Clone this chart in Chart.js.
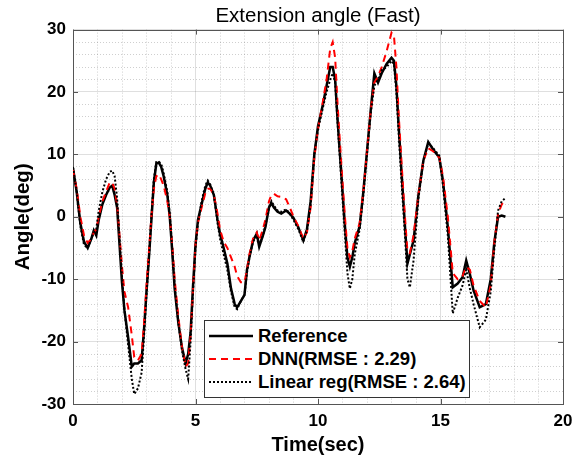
<!DOCTYPE html>
<html>
<head>
<meta charset="utf-8">
<script src="https://cdn.jsdelivr.net/npm/chart.js@4"></script>
<style>
    body { margin: 0; background: #fff; }
    #wrap { position: relative; width: 581px; height: 466px; }
    #legend {
        position: absolute; left: 204px; top: 320px; width: 264px; height: 73px;
        border: 1px solid #333; background: #fff; padding-top: 3px; box-sizing: content-box;
        font: bold 18.5px 'Liberation Sans', Arial, sans-serif; color: #000;
    }
    #legend .row { display: flex; align-items: center; height: 23px; white-space: nowrap; }
    #legend svg { margin-left: 3px; margin-right: 5px; }
</style>
</head>
<body>
<div id="wrap">
    <canvas id="myChart" width="581" height="466"></canvas>
    <div id="legend"></div>
</div>
<script>
// time (sec)
const times = [
    0.0, 0.15, 0.3, 0.45, 0.6, 0.75, 0.85, 0.95, 1.05, 1.2, 1.35, 1.5, 1.6, 1.7, 1.8, 1.9,
    2.0, 2.1, 2.25, 2.4, 2.5, 2.65, 2.8, 2.9, 3.0, 3.1, 3.2, 3.3, 3.4, 3.5, 3.6, 3.7, 3.85, 3.95,
    4.05, 4.15, 4.3, 4.45, 4.6, 4.7, 4.8, 4.9, 5.0, 5.1, 5.25, 5.4, 5.5, 5.6, 5.75, 5.9,
    6.0, 6.15, 6.3, 6.45, 6.6, 6.7, 6.85, 7.0, 7.1, 7.2, 7.35, 7.5, 7.6, 7.75, 7.85,
    8.0, 8.1, 8.2, 8.35, 8.5, 8.7, 8.85, 9.0, 9.2, 9.4, 9.55, 9.7, 9.85,
    10.0, 10.2, 10.35, 10.5, 10.6, 10.7, 10.8, 10.95, 11.1, 11.2, 11.3, 11.4, 11.5, 11.7, 11.85,
    12.0, 12.15, 12.3, 12.45, 12.6, 12.8, 13.0, 13.1, 13.2, 13.3, 13.42, 13.55, 13.65, 13.75, 13.9,
    14.1, 14.3, 14.5, 14.7, 14.95, 15.1, 15.3, 15.5, 15.7, 15.9,
    16.05, 16.2, 16.35, 16.6, 16.85, 17.05, 17.2, 17.35, 17.5, 17.65
];

const reference = [
    7.8, 4, -1, -4, -5, -3.5, -2.2, -3, -0.5, 2, 3.5, 4.7, 5, 3.5, 1.5, -4.5,
    -10.5, -15, -19.3, -24, -23.5, -23.5, -23, -18, -12, -6.5, -0.5, 5.5, 8.5, 8.7, 8, 6.5, 3.5, 0,
    -5.5, -11.5, -17, -21, -23.5, -22, -18.5, -11, -4.5, -0.5, 2, 4.5, 5.5, 5, 3.5, -0.5,
    -2.7, -5, -7.5, -11.5, -14, -14.5, -13.5, -12.5, -8.5, -6.5, -3.8, -2.7, -4.8, -3, -1.7,
    1.5, 2.2, 1.5, 0.8, 0.5, 1, 0.5, -0.2, -1.7, -3.8, -2, 2.5, 10,
    14.5, 18, 21, 24, 24, 22, 15.5, 7, -1.5, -6.5, -8, -6.5, -4.2, -1.5, 4,
    10.5, 17, 23, 21.5, 23, 24.5, 25.5, 25, 21, 14, 6.5, -1.5, -7.5, -6, -3.8,
    3.5, 9, 12, 10.8, 9.5, 5.8, -1.7, -11.3, -10.7, -9.7,
    -7, -9.2, -11.8, -14.5, -14, -10, -4, 0, 0.2, 0
];

const dnn = [
    7.5, 4.5, 0, -3, -4.2, -3.5, -2.5, -2, 0, 2.5, 4, 5.5, 5.5, 4.5, 2, -3,
    -8, -12, -14.5, -19, -22.5, -23, -22, -17, -11, -5.5, 0, 4.5, 6.5, 6.8, 6, 5, 2.5, 0,
    -4.5, -10, -16, -21, -24, -23.5, -19, -11.5, -4.5, -1, 1.5, 3.8, 4.5, 4.5, 3.5, 0.5,
    -2, -4, -5, -6.5, -8, -9.5, -10.5, -10.5, -8.5, -6, -3.5, -2.5, -3.8, -2, -0.5,
    2.5, 3.5, 3.7, 3.3, 3.2, 2.8, 1.5, 0, -1.5, -3.5, -2.5, 1.5, 9.5,
    14, 18.5, 22, 27, 28, 25.5, 18, 8.5, 0, -5, -6.5, -5.5, -3.5, -1, 4,
    10.5, 17, 21.5, 22.5, 24, 26.5, 29.5, 29, 24, 16, 8, 0, -5.5, -5.8, -3,
    3.5, 9, 11, 10.5, 9.5, 6.5, 0, -9, -10, -9.5,
    -8, -8.5, -11, -13.5, -14.5, -11, -4, 0.5, 2, 2.7
];

const linearReg = [
    8, 4, -1.5, -4.5, -5, -3.5, -2.5, -2, 1, 4, 6, 7.2, 7.4, 6.5, 3, -3.5,
    -9.5, -15, -20.5, -26, -28.4, -27.5, -25, -19, -12.5, -6.5, 0, 6, 8.8, 8.8, 8.5, 7, 4, 0.5,
    -5, -11, -17, -21.5, -24.5, -26, -20, -12, -5, -1, 2.5, 5, 5.8, 5.2, 3.5, -1,
    -3.5, -6, -8.5, -12, -14.5, -14.8, -13.5, -12.5, -9, -6.5, -4, -3, -4.5, -3, -1.5,
    1.5, 2.5, 1.8, 1, 0.8, 1.2, 0.5, -0.5, -2, -4, -2.2, 2, 10,
    14, 17.5, 20, 22, 23, 21.5, 15, 6, -3, -9, -11.5, -10, -6, -2, 3.5,
    10, 16.5, 21, 22, 23.5, 24, 25, 24.5, 20, 13, 5, -3, -10, -11.3, -7,
    3, 9, 11.8, 11, 9.8, 5, -3, -15.5, -13, -11,
    -8.5, -11.5, -14, -17.7, -16.5, -12, -5, 1, 2.5, 3
];

const seriesLabels = ['Reference', 'DNN(RMSE : 2.29)', 'Linear reg(RMSE : 2.64)'];
const xTicks = [0, 5, 10, 15, 20];
const yTicks = [-30, -20, -10, 0, 10, 20, 30];

const FONT = "'Liberation Sans', Arial, sans-serif";
const MAJOR = 'rgba(38,38,38,0.15)';
const MINOR = 'rgba(38,38,38,0.22)';

function toPoints(values) {
    return times.map((t, i) => ({ x: t, y: values[i] }));
}

// MATLAB style box with inward ticks
const boxPlugin = {
    id: 'box',
    beforeDatasetsDraw(chart) {
        const { ctx, chartArea: a, scales } = chart;
        ctx.save();
        ctx.strokeStyle = '#555';
        ctx.lineWidth = 1;
        ctx.strokeRect(Math.round(a.left) + 0.5, Math.round(a.top) + 0.5,
            Math.round(a.right - a.left), Math.round(a.bottom - a.top));
        ctx.beginPath();
        xTicks.forEach(v => {
            const px = Math.round(scales.x.getPixelForValue(v)) + 0.5;
            ctx.moveTo(px, a.bottom); ctx.lineTo(px, a.bottom - 5);
            ctx.moveTo(px, a.top); ctx.lineTo(px, a.top + 5);
        });
        yTicks.forEach(v => {
            const py = Math.round(scales.y.getPixelForValue(v)) + 0.5;
            ctx.moveTo(a.left, py); ctx.lineTo(a.left + 5, py);
            ctx.moveTo(a.right, py); ctx.lineTo(a.right - 5, py);
        });
        ctx.stroke();
        ctx.restore();
    }
};

const ctx = document.getElementById('myChart').getContext('2d');
const chart = new Chart(ctx, {
    type: 'line',
    data: {
        datasets: [
            { label: seriesLabels[0], data: toPoints(reference), borderColor: '#000', borderWidth: 2.5, order: 3 },
            { label: seriesLabels[1], data: toPoints(dnn), borderColor: '#ff0000', borderWidth: 2, borderDash: [7, 5], order: 2 },
            { label: seriesLabels[2], data: toPoints(linearReg), borderColor: '#000', borderWidth: 2, borderDash: [2, 2], order: 1 }
        ]
    },
    options: {
        responsive: false,
        animation: false,
        devicePixelRatio: 1,
        elements: { point: { radius: 0 }, line: { tension: 0, fill: false } },
        layout: { padding: { left: 0, right: 18, top: 0, bottom: 0 } },
        plugins: {
            legend: { display: false },
            tooltip: { enabled: false },
            title: {
                display: true,
                text: 'Extension angle (Fast)',
                fullSize: false,
                color: '#000',
                font: { family: FONT, size: 20.5, weight: 'normal', lineHeight: 1.2 },
                padding: { top: 4, bottom: 1 }
            }
        },
        scales: {
            x: {
                type: 'linear', min: 0, max: 20,
                afterBuildTicks: s => { s.ticks = xTicks.map(v => ({ value: v })); },
                afterFit: s => { s.height = 62; },
                ticks: { color: '#000', padding: 7, font: { family: FONT, size: 17, weight: 'bold' } },
                grid: { color: MAJOR, drawTicks: false },
                border: { display: false },
                title: { display: true, text: 'Time(sec)', color: '#000', padding: { top: 0, bottom: 9 },
                    font: { family: FONT, size: 20, weight: 'bold' } }
            },
            xMinor: {
                type: 'linear', min: 0, max: 20, position: 'bottom',
                ticks: { display: false, stepSize: 1 },
                grid: { drawTicks: false, color: c => (c.tick && c.tick.value % 5 === 0) ? 'transparent' : MINOR },
                border: { display: false, dash: [1, 2] }
            },
            y: {
                type: 'linear', min: -30, max: 30,
                afterBuildTicks: s => { s.ticks = yTicks.map(v => ({ value: v })); },
                afterFit: s => { s.width = 73; },
                ticks: { color: '#000', padding: 7, font: { family: FONT, size: 17, weight: 'bold' } },
                grid: { color: MAJOR, drawTicks: false },
                border: { display: false },
                title: { display: true, text: 'Angle(deg)', color: '#000', padding: { top: 11, bottom: 0 },
                    font: { family: FONT, size: 20.5, weight: 'bold' } }
            },
            yMinor: {
                type: 'linear', min: -30, max: 30, position: 'left',
                ticks: { display: false, stepSize: 2 },
                afterFit: s => { s.width = 0; },
                grid: { drawTicks: false, color: c => (c.tick && c.tick.value % 10 === 0) ? 'transparent' : MINOR },
                border: { display: false, dash: [1, 2] }
            }
        }
    },
    plugins: [boxPlugin]
});

// legend drawn inside the axes like MATLAB
const legendDiv = document.getElementById('legend');
chart.data.datasets.forEach(ds => {
    const dash = ds.borderDash ? ds.borderDash.join(',') : 'none';
    legendDiv.innerHTML += `
        <div class="row">
            <svg width="45" height="10"><line x1="1" y1="5" x2="45" y2="5" stroke="${ds.borderColor}"
                stroke-width="${ds.borderWidth}" stroke-dasharray="${dash}"/></svg>
            <span>${ds.label}</span>
        </div>`;
});
</script>
</body>
</html>
